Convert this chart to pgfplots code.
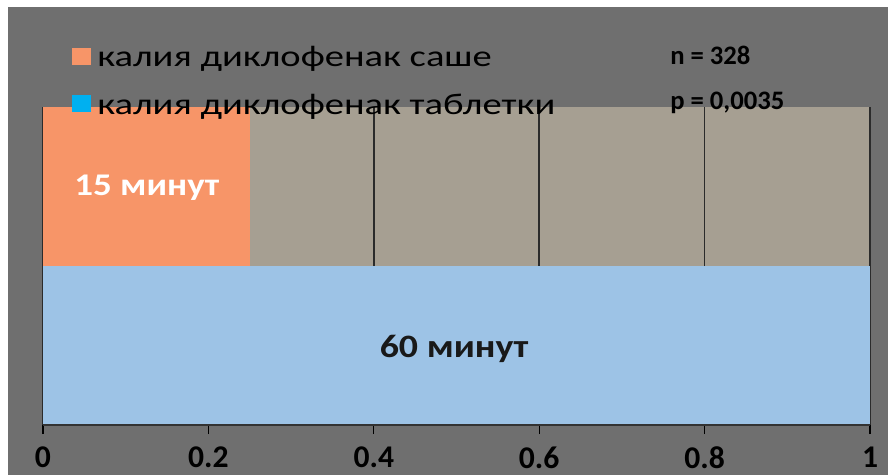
\documentclass[border=0pt]{standalone}
\usepackage{graphicx}
\usepackage{pgfplots}
\pgfplotsset{compat=1.18}
\usepackage{fontspec}
\setmainfont{Carlito}

\definecolor{bggray}{HTML}{6F6F6F}
\definecolor{plotbeige}{HTML}{A69F92}
\definecolor{salmon}{HTML}{F79568}
\definecolor{barblue}{HTML}{9DC3E6}
\definecolor{keyblue}{HTML}{00B0F0}
\definecolor{gridc}{HTML}{2B2B2B}

\begin{document}
\begin{tikzpicture}
% canvas
\fill[white] (0,0) rectangle (666pt,356.25pt);
\fill[bggray] (6pt,0) rectangle (666pt,351pt);

\begin{axis}[
  at={(32.25pt,37.5pt)}, anchor=south west,
  scale only axis, width=620.25pt, height=238.5pt,
  xmin=0, xmax=1, ymin=0, ymax=2,
  xtick={0,0.2,0.4,0.6,0.8,1}, ytick=\empty,
  xtick pos=left,
  tick align=outside, major tick length=6.75pt,
  tick style={black, line width=0.9pt},
  xmajorgrids, grid style={gridc, line width=1.1pt},
  axis background/.style={fill=plotbeige},
  axis line style={draw=none},
  /pgf/number format/assume math mode=true,
  xticklabel style={font=\fontsize{23.7}{24}\selectfont\bfseries, text=black, yshift=-6pt},
  xbar, bar width=1, bar shift=0pt,
]
% onset time as a fraction of one hour
\addplot[fill=salmon, draw=none] coordinates {(0.25,1.5)};
\addplot[fill=barblue, draw=none] coordinates {(1,0.5)};
\draw[black!80, line width=1pt] (rel axis cs:0,0) -- (rel axis cs:1,0);
\node[text=white, font=\fontsize{23.7}{24}\selectfont\bfseries] at (axis cs:0.1255,1.49) {\scalebox{1.17}[1]{15 минут}};
\node[text=black!90, font=\fontsize{24.5}{25}\selectfont\bfseries] at (axis cs:0.497,0.48) {\scalebox{1.16}[1]{60 минут}};
\end{axis}

% key and statistics, laid out from the top left corner
\begin{scope}[shift={(0,356.25pt)}, x=0.75pt, y=-0.75pt]
  \fill[salmon] (72,48) rectangle (91,65);
  \fill[keyblue] (72,95) rectangle (91,112);
  \node[anchor=base west, inner sep=0pt, font=\fontsize{22.5}{23}\selectfont] at (97,67) {\scalebox{1.285}[1]{калия диклофенак саше}};
  \node[anchor=base west, inner sep=0pt, font=\fontsize{22.5}{23}\selectfont] at (97,115) {\scalebox{1.285}[1]{калия диклофенак таблетки}};
  \node[anchor=base west, inner sep=0pt, font=\fontsize{20}{21}\selectfont\bfseries] at (670,65) {n = 328};
  \node[anchor=base west, inner sep=0pt, font=\fontsize{20}{21}\selectfont\bfseries] at (670,110) {p = 0,0035};
\end{scope}
\end{tikzpicture}
\end{document}
